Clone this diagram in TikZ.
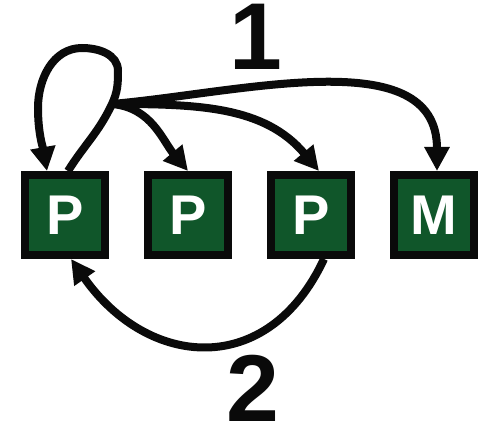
\documentclass[tikz,border=0pt]{standalone}
\usepackage{fontspec}
\setmainfont{Liberation Sans}
\usetikzlibrary{positioning, arrows.meta}
\definecolor{leafgreen}{RGB}{16,86,42}
\definecolor{ink}{RGB}{10,10,10}
\tikzset{
  cell/.style = {shape=rectangle, draw=ink, line width=8pt,
                 fill=leafgreen, minimum size=80pt, inner sep=0pt,
                 text=white, font=\fontsize{56}{60}\selectfont\bfseries},
  flow/.style = {draw=ink, line width=8pt,
                 -{Triangle[length=24pt,width=24pt]}},
  tag/.style  = {text=ink, inner sep=0pt,
                 font=\fontsize{95}{100}\selectfont\bfseries}
}

\begin{document}
\begin{tikzpicture}
  [
  x = 1pt, y = 1pt,
  node distance = 35pt
  ]
  \useasboundingbox (0,0) rectangle (483,426);

  % the row of boxes
  \node[cell] (p1) at (65,211) {P};
  \node[cell, right=of p1] (p2) {P};
  \node[cell, right=of p2] (p3) {P};
  \node[cell, right=of p3] (m)  {M};

  % step 1: out of the first box, back into it and on to the others
  \coordinate (hub) at (112,322);
  \draw[flow] ([xshift=3pt]p1.north) to[out=58,in=-115] (hub)
    to[out=65,in=-90] (118,355) to[out=90,in=0] (82,378)
    to[out=180,in=90] (38,318) to[out=-90,in=100] ([xshift=-18pt]p1.north);
  \draw[flow] (hub) to[out=-5,in=130] (p2.north);
  \draw[flow] (hub) to[out=0,in=130] ([xshift=8pt]p3.north);
  \draw[flow] (hub) to[out=5,in=90] ([xshift=3pt]m.north);

  % step 2: third box back to the first
  \draw[flow] ([xshift=13pt]p3.south) to[out=-115,in=-55,looseness=1.35] ([xshift=6pt]p1.south);

  \node[tag] (one) at (256,389) {1};
  \node[tag] (two) at (253,38) {2};
\end{tikzpicture}
\end{document}
